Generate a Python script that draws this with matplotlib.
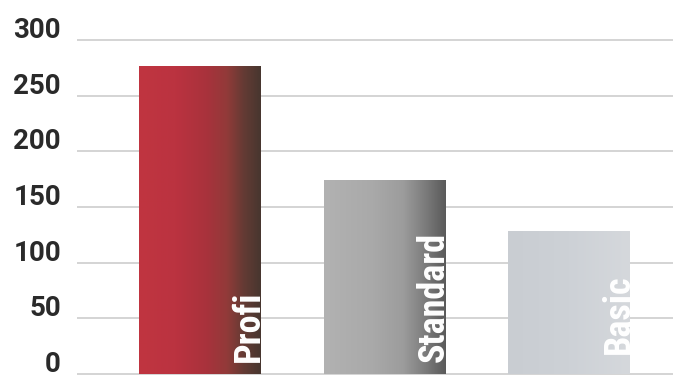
import numpy as np
import matplotlib
matplotlib.use("Agg")
import matplotlib.pyplot as plt
import matplotlib.transforms as mtransforms
from matplotlib.colors import LinearSegmentedColormap
from matplotlib import font_manager

# ---- data ----
categories = ["Profi", "Standard", "Basic"]
values = [277, 174, 128]
yticks = [0, 50, 100, 150, 200, 250, 300]
ytick_labels = ["0", "50", "100", "150", "200", "250", "300"]

# ---- style ----
W, H, DPI = 673, 376, 100
bar_width = 0.655
gradients = [
    [(0.0, "#c03540"), (0.3, "#bb3340"), (0.55, "#a9323c"), (0.72, "#923a39"),
     (0.86, "#643b34"), (1.0, "#47362f")],
    [(0.0, "#b2b2b2"), (0.4, "#a9a9a9"), (0.65, "#9c9c9c"), (0.82, "#7e7e7e"),
     (1.0, "#5a5a5a")],
    [(0.0, "#c9cdd2"), (0.5, "#cdd1d6"), (1.0, "#d5d8dc")],
]
label_offsets_px = [12, 12, 20]

available = {f.name for f in font_manager.fontManager.ttflist}
narrow_candidates = ["Roboto Condensed", "Liberation Sans Narrow", "DejaVu Sans Condensed",
                     "Open Sans Condensed", "Roboto"]
label_family = [f for f in narrow_candidates if f in available] or ["DejaVu Sans"]
label_family = label_family[:1] + ["DejaVu Sans"]
condensed = label_family[0] != "Roboto"

fig = plt.figure(figsize=(W / DPI, H / DPI), dpi=DPI)
ax = fig.add_axes([77 / W, 0, 1 - 77 / W, 346 / H])
px_per_unit = 334 / 300
ylim = (-2 / px_per_unit, 300 + 10 / px_per_unit)
xlim = (-0.663, 2.563)

for s in ax.spines.values():
    s.set_visible(False)
ax.set_xticks([])
ax.set_yticks(yticks)
ax.set_yticklabels([])
ax.tick_params(axis="y", length=0)
ax.grid(axis="y", color="#c9c9c9", linewidth=1.1)
ax.set_axisbelow(True)

lab_tr = mtransforms.blended_transform_factory(ax.transAxes, ax.transData) + \
    mtransforms.ScaledTranslation(-16 / DPI, 2 / DPI, fig.dpi_scale_trans)
for v, t in zip(yticks, ytick_labels):
    ax.text(0, v, t, transform=lab_tr, ha="right", va="baseline",
            fontsize=20, fontweight="bold", color="#2a2a2a",
            family=["Roboto", "DejaVu Sans"], clip_on=False)

x = np.arange(len(categories))
bars = ax.bar(x, values, width=bar_width, color="none", edgecolor="none", zorder=2)

grad = np.linspace(0, 1, 256).reshape(1, -1)
for i, (b, cols) in enumerate(zip(bars, gradients)):
    cmap = LinearSegmentedColormap.from_list(f"g{i}", cols)
    x0, y0 = b.get_x(), b.get_y()
    w, h = b.get_width(), b.get_height()
    im = ax.imshow(grad, cmap=cmap, aspect="auto", extent=[x0, x0 + w, y0, y0 + h],
                   origin="lower", zorder=2, interpolation="bilinear")
    im.set_clip_path(b)

ax.set_xlim(*xlim)
ax.set_ylim(*ylim)

label_size = 26 if condensed else 20.5
for b, name, off in zip(bars, categories, label_offsets_px):
    tr = ax.transData + mtransforms.ScaledTranslation(-1 / DPI, off / DPI, fig.dpi_scale_trans)
    ax.text(b.get_x() + b.get_width(), 0, name, transform=tr, rotation=90,
            rotation_mode="anchor", ha="left", va="baseline",
            fontsize=label_size, fontweight="bold", color="white",
            family=label_family, zorder=3)

fig.savefig("out.png", dpi=DPI)
